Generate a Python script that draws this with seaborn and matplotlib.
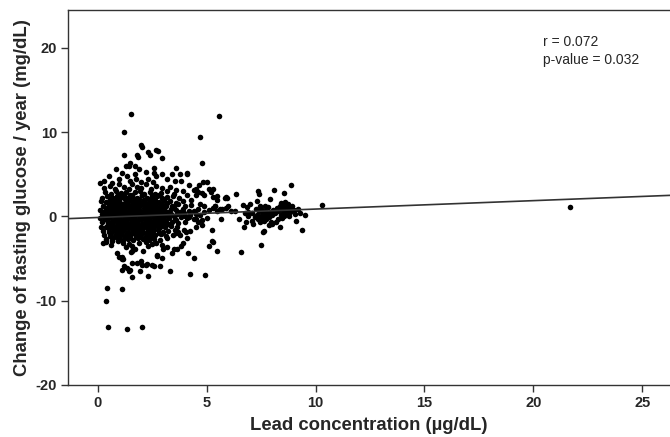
import matplotlib
matplotlib.use("Agg")
import matplotlib.pyplot as plt
import pandas as pd
import seaborn as sns

# core blob (lead < ~4.5 ug/dL)
core_pts = [
    (0.35, 2.9), (0.60, 2.7), (0.82, 3.0), (1.05, 2.75), (1.30, 2.95), (1.48, 2.6), (1.70, 2.85),
    (1.95, 3.05), (2.15, 2.7), (2.40, 2.9), (2.62, 2.65), (2.90, 2.8), (3.20, 3.0), (3.50, 2.7),
    (0.20, 2.2), (0.45, 2.4), (0.70, 2.25), (0.90, 2.45), (1.12, 2.3), (1.36, 2.15), (1.58, 2.4),
    (1.80, 2.25), (2.02, 2.5), (2.26, 2.2), (2.50, 2.35), (2.72, 2.45), (2.95, 2.2), (3.20, 2.3),
    (3.45, 2.4), (3.75, 2.2),
    (0.15, 1.8), (0.38, 1.7), (0.62, 1.9), (0.80, 1.75), (1.00, 1.85), (1.24, 1.65), (1.46, 1.9),
    (1.68, 1.8), (1.90, 1.7), (2.12, 1.95), (2.36, 1.75), (2.58, 1.85), (2.80, 1.7), (3.05, 1.9),
    (3.30, 1.8), (3.60, 1.65), (3.90, 1.85),
    (0.25, 1.3), (0.50, 1.4), (0.72, 1.2), (0.95, 1.35), (1.15, 1.25), (1.38, 1.4), (1.60, 1.2),
    (1.82, 1.3), (2.05, 1.45), (2.28, 1.2), (2.48, 1.35), (2.70, 1.25), (2.92, 1.4), (3.15, 1.2),
    (3.42, 1.3), (3.70, 1.45), (4.00, 1.2), (4.30, 1.35),
    (0.12, 0.8), (0.35, 0.7), (0.58, 0.9), (0.80, 0.75), (1.02, 0.85), (1.26, 0.7), (1.50, 0.9),
    (1.72, 0.8), (1.95, 0.7), (2.18, 0.85), (2.40, 0.75), (2.62, 0.9), (2.85, 0.8), (3.10, 0.7),
    (3.35, 0.85), (3.60, 0.75), (3.90, 0.9), (4.20, 0.7),
    (0.20, 0.3), (0.45, 0.2), (0.68, 0.4), (0.90, 0.25), (1.12, 0.35), (1.35, 0.2), (1.56, 0.4),
    (1.78, 0.3), (2.00, 0.2), (2.22, 0.35), (2.45, 0.25), (2.68, 0.4), (2.90, 0.3), (3.12, 0.2),
    (3.38, 0.35), (3.65, 0.25), (3.95, 0.4), (4.25, 0.2), (4.50, 0.3),
    (0.10, -0.2), (0.32, -0.3), (0.55, -0.1), (0.78, -0.25), (1.00, -0.15), (1.22, -0.3),
    (1.45, -0.1), (1.68, -0.2), (1.90, -0.3), (2.12, -0.15), (2.35, -0.25), (2.58, -0.1),
    (2.80, -0.2), (3.02, -0.3), (3.28, -0.15), (3.55, -0.25), (3.82, -0.1), (4.10, -0.2), (4.40, -0.3),
    (0.22, -0.7), (0.46, -0.8), (0.70, -0.6), (0.92, -0.75), (1.14, -0.65), (1.36, -0.8),
    (1.58, -0.6), (1.80, -0.7), (2.02, -0.85), (2.25, -0.65), (2.48, -0.75), (2.70, -0.6),
    (2.92, -0.8), (3.15, -0.7), (3.40, -0.6), (3.70, -0.75), (4.00, -0.65),
    (0.15, -1.2), (0.38, -1.3), (0.60, -1.1), (0.84, -1.25), (1.06, -1.15), (1.28, -1.3),
    (1.50, -1.1), (1.72, -1.2), (1.95, -1.35), (2.18, -1.15), (2.40, -1.25), (2.62, -1.1),
    (2.85, -1.3), (3.10, -1.2), (3.38, -1.1), (3.65, -1.25),
    (0.25, -1.7), (0.50, -1.8), (0.74, -1.6), (0.96, -1.75), (1.18, -1.65), (1.40, -1.8),
    (1.62, -1.6), (1.85, -1.7), (2.08, -1.85), (2.30, -1.65), (2.52, -1.75), (2.75, -1.6),
    (3.00, -1.8), (3.25, -1.7), (3.55, -1.6),
    (0.30, -2.2), (0.58, -2.3), (0.82, -2.1), (1.05, -2.25), (1.28, -2.15), (1.50, -2.3),
    (1.72, -2.1), (1.95, -2.2), (2.20, -2.35), (2.42, -2.15), (2.65, -2.25), (2.90, -2.1),
    (3.15, -2.3), (3.45, -2.2),
    (0.40, -2.7), (0.68, -2.8), (0.92, -2.6), (1.15, -2.75), (1.40, -2.65), (1.62, -2.8),
    (1.85, -2.6), (2.10, -2.7), (2.35, -2.85), (2.60, -2.65), (2.88, -2.75), (3.20, -2.6),
    (0.95, 2.55), (1.20, 2.6), (1.60, 2.5), (2.05, 2.6), (2.50, 2.55), (2.80, 2.5),
    (0.55, 2.05), (0.80, 2.1), (1.00, 2.0), (1.25, 2.1), (1.48, 2.0), (1.70, 2.05), (1.92, 2.1),
    (2.15, 2.0), (2.40, 2.1), (2.62, 2.0), (3.00, 2.05),
    (0.50, 1.55), (0.72, 1.5), (0.90, 1.6), (1.12, 1.5), (1.35, 1.6), (1.56, 1.5), (1.78, 1.55),
    (2.00, 1.6), (2.24, 1.5), (2.46, 1.6), (2.70, 1.55), (2.95, 1.5), (3.20, 1.6),
    (0.40, 1.05), (0.62, 1.0), (0.85, 1.1), (1.05, 1.0), (1.28, 1.1), (1.50, 1.0), (1.70, 1.05),
    (1.92, 1.1), (2.15, 1.0), (2.38, 1.1), (2.60, 1.0), (2.82, 1.05), (3.05, 1.0), (3.50, 1.1),
    (0.30, 0.55), (0.52, 0.5), (0.74, 0.6), (0.95, 0.5), (1.15, 0.6), (1.38, 0.5), (1.60, 0.55),
    (1.82, 0.6), (2.05, 0.5), (2.28, 0.6), (2.50, 0.55), (2.74, 0.5), (2.98, 0.6), (3.25, 0.5),
    (3.80, 0.55),
    (0.30, 0.05), (0.55, 0.0), (0.78, 0.1), (1.00, 0.0), (1.22, 0.1), (1.45, 0.05), (1.66, 0.0),
    (1.88, 0.1), (2.10, 0.0), (2.32, 0.1), (2.55, 0.05), (2.78, 0.0), (3.00, 0.1), (3.25, 0.0),
    (3.50, 0.05), (4.00, 0.1),
    (0.42, -0.45), (0.66, -0.5), (0.88, -0.4), (1.10, -0.5), (1.32, -0.4), (1.55, -0.45),
    (1.76, -0.5), (1.98, -0.4), (2.20, -0.5), (2.42, -0.45), (2.65, -0.4), (2.88, -0.5),
    (3.10, -0.45), (3.60, -0.4),
    (0.48, -0.95), (0.72, -1.0), (0.95, -0.9), (1.18, -1.0), (1.40, -0.9), (1.62, -0.95),
    (1.84, -1.0), (2.06, -0.9), (2.30, -1.0), (2.52, -0.95), (2.75, -0.9), (3.00, -1.0), (3.25, -0.95),
    (0.52, -1.45), (0.75, -1.5), (0.98, -1.4), (1.20, -1.5), (1.42, -1.4), (1.64, -1.45),
    (1.88, -1.5), (2.10, -1.4), (2.32, -1.5), (2.55, -1.45), (2.80, -1.4),
    (0.62, -1.95), (0.88, -2.0), (1.12, -1.9), (1.35, -2.0), (1.58, -1.95), (1.80, -1.9),
    (2.02, -2.0), (2.26, -1.95), (2.50, -1.9), (2.80, -2.0),
    (0.75, -2.45), (1.00, -2.5), (1.25, -2.4), (1.50, -2.5), (1.75, -2.45), (2.00, -2.4),
    (2.25, -2.5), (2.50, -2.45),
]

# sparser edge of the blob
upper_pts = [
    (0.12, 4.0), (0.27, 4.2), (0.50, 4.8), (0.66, 4.0), (0.96, 4.4), (1.11, 5.2), (1.34, 4.8),
    (0.30, 3.4), (0.55, 3.6), (0.80, 3.3), (1.00, 3.8), (1.20, 3.5), (1.45, 3.3), (1.60, 3.9),
    (1.80, 3.5), (2.00, 3.4), (2.20, 3.8), (2.45, 3.3), (2.70, 3.6), (2.95, 3.4), (3.30, 3.5),
    (3.60, 3.2), (1.50, 4.2), (1.75, 4.5), (2.00, 4.1), (2.30, 4.4), (2.55, 4.1), (2.70, 4.8),
    (2.57, 5.2), (2.95, 5.1), (3.18, 4.4), (3.40, 5.0), (3.56, 4.2), (3.80, 5.0), (3.84, 4.2),
    (4.10, 5.2), (1.70, 5.0), (1.90, 5.6), (2.20, 5.3), (1.30, 6.0), (1.72, 5.95), (2.57, 5.75),
    (3.60, 5.75), (4.20, 3.7), (4.40, 3.1), (4.50, 3.3), (4.63, 3.7), (4.83, 4.15), (5.00, 4.15),
    (4.10, 2.6), (4.50, 2.5), (4.80, 2.8), (3.90, 3.0), (4.30, 1.9), (4.70, 1.5), (4.60, 0.9),
    (4.90, 0.5), (4.60, 2.9), (5.10, 3.3), (4.90, 2.6), (5.20, 2.9), (0.85, 5.6),
]
lower_pts = [
    (0.38, -3.0), (0.65, -2.9), (0.95, -2.9), (1.42, -3.3), (2.33, -3.5), (2.50, -3.3),
    (0.88, -4.3), (1.00, -4.8), (1.10, -5.1), (1.57, -4.1), (1.72, -3.9), (2.10, -4.1),
    (1.30, -3.6), (1.90, -3.2), (2.70, -3.1), (2.95, -3.4), (3.20, -3.6), (3.50, -3.9),
    (3.00, -3.9), (3.64, -3.9), (3.84, -3.5), (3.94, -3.1), (4.10, -2.5), (3.60, -2.0),
    (3.80, -2.2), (3.70, -1.9), (3.95, -1.6), (4.05, -1.8), (4.25, -1.7), (2.72, -4.7),
    (2.95, -4.9), (3.40, -4.3), (4.17, -4.3), (4.40, -4.9), (1.54, -4.2), (1.14, -4.8),
    (1.16, -5.0), (0.60, -3.4), (1.15, -3.2), (1.60, -3.5), (2.20, -3.0), (0.25, -3.1),
    (1.19, -5.9), (1.34, -6.1), (1.50, -6.3), (1.57, -5.5), (1.80, -5.5), (2.00, -5.3),
    (2.05, -5.8), (1.57, -7.2), (2.33, -7.1), (1.95, -6.5), (2.20, -5.8), (2.27, -5.6),
    (2.50, -5.7), (2.57, -5.9), (2.87, -5.9), (3.33, -6.5), (4.22, -6.8), (4.94, -6.9),
    (1.14, -6.3), (1.45, -6.5), (2.73, -4.6),
    (4.20, -0.1), (4.50, -0.3), (4.80, -0.4), (5.00, -0.2), (4.60, -0.6), (4.40, 0.6),
    (4.70, 0.2), (5.10, 0.8), (4.90, 1.2), (5.30, 1.0), (5.50, 0.7), (5.40, 1.3), (5.70, 0.9),
    (5.27, -1.6), (5.27, -2.9), (5.47, -4.1), (5.10, -3.5), (5.30, -3.0), (4.50, -1.2),
    (4.80, -1.0),
]
outlier_pts = [
    (1.53, 12.15), (1.23, 10.0), (2.00, 8.5), (2.05, 8.2), (1.20, 7.3), (2.33, 7.6), (2.40, 7.3),
    (2.67, 7.9), (2.75, 7.8), (1.80, 7.3), (1.86, 7.1), (2.95, 6.9), (1.50, 6.35), (1.45, 5.95),
    (4.12, 5.1), (4.72, 9.47), (5.59, 11.95), (4.77, 6.35),
    (0.43, -8.5), (1.13, -8.64), (0.38, -10.0), (0.47, -13.1), (1.34, -13.3), (2.03, -13.1),
    (21.7, 1.1),
]
# lead 5-10 ug/dL group
high_pts = [
    (8.88, 3.75), (8.10, 3.2), (8.57, 2.76), (7.35, 3.0), (7.40, 2.65), (6.37, 2.7), (5.30, 3.3),
    (5.30, 2.3), (5.50, 2.4), (5.50, 2.0), (5.90, 2.3), (6.65, 1.4), (6.85, 1.15), (7.30, 1.85),
    (7.90, 2.1), (5.40, 1.2), (5.60, 0.9), (5.90, 1.0), (6.00, 1.3), (6.30, 0.7), (6.10, 0.6),
    (5.68, -0.25), (6.88, 0.0), (6.70, -1.2), (7.15, -0.95), (7.60, -1.85), (7.65, -1.75),
    (7.50, -3.35), (6.60, -4.2), (8.35, -1.25), (9.40, -1.55), (9.50, 0.15), (10.3, 1.4),
    (5.95, 2.25), (5.84, 2.2),
    (7.30, 0.2), (7.35, -0.3), (7.40, 0.6), (7.45, -0.6), (7.50, 0.1), (7.52, 0.9), (7.55, -0.2),
    (7.60, 0.4), (7.62, -0.5), (7.68, 0.0), (7.70, 0.7), (7.75, -0.35), (7.80, 0.3), (7.82, 1.1),
    (7.88, -0.1), (7.90, 0.5), (7.95, -0.6), (8.00, 0.2), (7.25, 0.9), (7.45, 1.3), (7.70, 1.2),
    (7.20, -0.1), (8.05, 0.8), (7.10, 0.4),
    (8.30, 0.6), (8.35, 1.2), (8.40, 0.2), (8.42, 1.6), (8.45, 0.9), (8.50, 0.4), (8.52, 1.3),
    (8.55, 0.0), (8.60, 0.8), (8.62, 1.7), (8.65, 0.3), (8.70, 1.1), (8.72, 0.6), (8.75, 1.5),
    (8.80, 0.1), (8.82, 0.9), (8.85, 0.5), (8.90, 1.3), (9.00, 0.8), (9.05, 0.3), (8.25, 1.0),
    (8.45, -0.2), (9.20, 0.9), (8.15, 0.4),
    (6.50, -0.3), (6.90, 0.5), (7.00, 1.5), (7.10, -0.5), (6.75, 0.4), (8.20, -0.6), (8.30, -0.3),
    (9.10, -0.5), (9.30, 0.4), (8.00, -0.9), (7.85, -1.0), (6.80, -0.6),
]

# fitted line and stats shown in the figure
fit_intercept = -0.12
fit_slope = 0.10
r_text = "r = 0.072"
p_text = "p-value = 0.032"

x_ticks = [0, 5, 10, 15, 20, 25]
y_ticks = [-20, -10, 0, 10, 20]

all_pts = core_pts + upper_pts + lower_pts + outlier_pts + high_pts
df = pd.DataFrame(all_pts, columns=["lead", "change"])

sns.set_theme(style="white")
plt.rcParams["font.family"] = ["Liberation Sans", "DejaVu Sans"]
plt.rcParams["axes.unicode_minus"] = False

fig = plt.figure(figsize=(6.7, 4.37), dpi=100)
ax = fig.add_axes([0.1015, 0.119, 0.8985, 0.858])

sns.scatterplot(data=df, x="lead", y="change", color="black", s=16,
                linewidth=0, ax=ax)
ax.axline((0, fit_intercept), slope=fit_slope, color="#333333", linewidth=1.2)

ax.set_xlim(-1.36, 26.27)
ax.set_ylim(-20, 24.5)
ax.set_xticks(x_ticks)
ax.set_yticks(y_ticks)
ax.tick_params(axis="both", direction="out", length=5, width=1, color="#333333",
               labelsize=10.5, pad=3, bottom=True, left=True)
for lab in ax.get_xticklabels() + ax.get_yticklabels():
    lab.set_fontweight("bold")

for side in ["left", "bottom", "top"]:
    ax.spines[side].set_color("#333333")
    ax.spines[side].set_linewidth(1)
ax.spines["right"].set_visible(False)

ax.set_xlabel("Lead concentration (µg/dL)", fontsize=13.3, fontweight="bold", labelpad=5)
ax.set_ylabel("Change of fasting glucose / year (mg/dL)", fontsize=13.3,
              fontweight="bold", labelpad=3)

ax.text(0.789, 0.915, r_text, transform=ax.transAxes, fontsize=10, va="center", ha="left")
ax.text(0.789, 0.867, p_text, transform=ax.transAxes, fontsize=10, va="center", ha="left")

fig.savefig("out.png", dpi=100)
plt.close(fig)
